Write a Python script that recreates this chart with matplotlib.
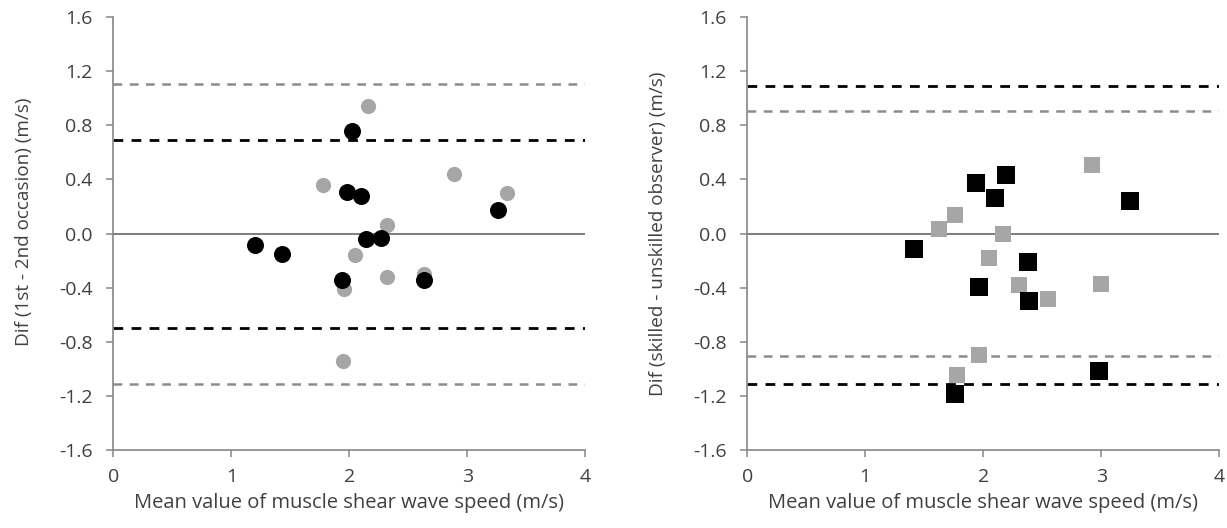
import matplotlib

matplotlib.use("Agg")
import matplotlib.pyplot as plt  # noqa: E402

# Left panel: 1st vs 2nd occasion (circles)
left_black_x = [2.02, 1.98, 2.10, 3.26, 2.14, 2.27, 1.20, 1.43, 1.94, 2.635]
left_black_y = [0.755, 0.31, 0.275, 0.177, -0.037, -0.03, -0.086, -0.15, -0.34, -0.34]
left_gray_x = [2.16, 1.78, 2.885, 3.34, 2.32, 2.05, 1.955, 2.32, 2.635, 1.947]
left_gray_y = [0.945, 0.36, 0.443, 0.30, 0.066, -0.157, -0.413, -0.32, -0.30, -0.942]
left_black_limits = [0.69, -0.70]
left_gray_limits = [1.105, -1.11]

# Right panel: skilled vs unskilled observer (squares)
right_black_x = [1.94, 2.19, 2.10, 3.24, 1.415, 2.376, 1.964, 2.39, 1.758, 2.98]
right_black_y = [0.37, 0.43, 0.26, 0.24, -0.116, -0.208, -0.396, -0.50, -1.183, -1.013]
right_gray_x = [2.92, 1.76, 1.625, 2.17, 2.05, 2.30, 2.545, 3.0, 1.966, 1.777]
right_gray_y = [0.51, 0.138, 0.037, 0.0, -0.182, -0.379, -0.487, -0.374, -0.90, -1.046]
right_black_limits = [1.092, -1.11]
right_gray_limits = [0.903, -0.903]

x_ticks = [0, 1, 2, 3, 4]
y_ticks = [-1.6, -1.2, -0.8, -0.4, 0.0, 0.4, 0.8, 1.2, 1.6]
x_label = "Mean value of muscle shear wave speed (m/s)"
y_labels = ["Dif (1st - 2nd occasion) (m/s)", "Dif (skilled - unskilled observer) (m/s)"]

BLACK = "#000000"
GRAY = "#a6a6a6"
GRAY_LINE = "#8c8c8c"
AXIS = "#868686"
TEXT = "#404040"

plt.rcParams["font.family"] = ["Open Sans", "DejaVu Sans"]

fig = plt.figure(figsize=(12.27, 5.28), dpi=100)
ax_l = fig.add_axes([0.0923, 0.1477, 0.3847, 0.820])
ax_r = fig.add_axes([0.609, 0.1477, 0.3847, 0.820])


def panel(ax, bx, by, gx, gy, b_lim, g_lim, marker, b_size, g_size, ylabel, label_y):
    for v in g_lim:
        ax.axhline(v, color=GRAY_LINE, linewidth=1.8, linestyle=(0, (3.5, 3)), zorder=1)
    for v in b_lim:
        ax.axhline(v, color=BLACK, linewidth=2.0, linestyle=(0, (3.5, 3)), zorder=1)
    ax.axhline(0, color="#595959", linewidth=1.1, zorder=1)
    ax.scatter(gx, gy, s=g_size, marker=marker, color=GRAY, linewidths=0, zorder=2)
    ax.scatter(bx, by, s=b_size, marker=marker, color=BLACK, linewidths=0, zorder=3)
    ax.set_xlim(0, 4)
    ax.set_ylim(-1.6, 1.6)
    ax.set_xticks(x_ticks)
    ax.set_yticks(y_ticks)
    ax.set_yticklabels([f"{v:.1f}" for v in y_ticks])
    for side in ("top", "right"):
        ax.spines[side].set_visible(False)
    for side in ("left", "bottom"):
        ax.spines[side].set_color(AXIS)
        ax.spines[side].set_linewidth(1.2)
    ax.tick_params(direction="out", length=5, width=1.1, color=AXIS,
                   labelcolor=TEXT, labelsize=14)
    ax.tick_params(axis="y", pad=10)
    ax.tick_params(axis="x", pad=8)
    ax.set_xlabel(x_label, fontsize=14.5, color=TEXT, labelpad=5)
    ax.set_ylabel(ylabel, fontsize=13.6, color=TEXT)
    ax.yaxis.set_label_coords(-0.17, label_y)


panel(ax_l, left_black_x, left_black_y, left_gray_x, left_gray_y,
      left_black_limits, left_gray_limits, "o", 150, 120, y_labels[0], 0.527)
panel(ax_r, right_black_x, right_black_y, right_gray_x, right_gray_y,
      right_black_limits, right_gray_limits, "s", 185, 135, y_labels[1], 0.5)

fig.savefig("out.png", dpi=100, facecolor="white")
